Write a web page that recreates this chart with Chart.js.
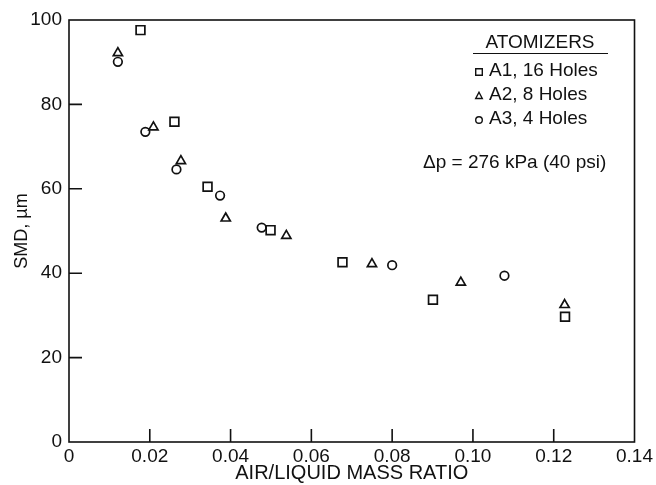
<!DOCTYPE html>
<html>
<head>
<meta charset="utf-8">
<script src="https://cdn.jsdelivr.net/npm/chart.js@4/dist/chart.umd.min.js"></script>
<style>
body { margin: 0; background: #fff; }
</style>
</head>
<body>
<canvas id="smdChart" width="656" height="485"></canvas>
<script>
// tick labels
const xTickLabels = ['0', '0.02', '0.04', '0.06', '0.08', '0.10', '0.12', '0.14']
const yTickLabels = ['0', '20', '40', '60', '80', '100']

// series
const seriesNames = ['A1, 16 Holes', 'A2, 8 Holes', 'A3, 4 Holes']
const a1Ratio = [0.0177, 0.0261, 0.0343, 0.0499, 0.0677, 0.0901, 0.1228]
const a1Smd = [97.6, 75.9, 60.5, 50.2, 42.6, 33.7, 29.7]
const a2Ratio = [0.0121, 0.0209, 0.0277, 0.0388, 0.0538, 0.0750, 0.0970, 0.1227]
const a2Smd = [92.2, 74.6, 66.6, 53.0, 48.9, 42.2, 37.8, 32.5]
const a3Ratio = [0.0121, 0.0189, 0.0266, 0.0374, 0.0477, 0.0800, 0.1078]
const a3Smd = [90.1, 73.5, 64.6, 58.4, 50.8, 41.9, 39.4]

const ink = '#111'
const fontFamily = '"Liberation Sans", Arial, Helvetica, sans-serif'

function toPoints(xs, ys) {
    return xs.map((x, i) => ({ x: x, y: ys[i] }))
}

function marker(ctx, style, x, y, s) {
    ctx.beginPath()
    if (style === 'rect') {
        ctx.rect(x - s, y - s, 2 * s, 2 * s)
    } else if (style === 'triangle') {
        ctx.moveTo(x, y - s * 1.15)
        ctx.lineTo(x + s, y + s * 0.75)
        ctx.lineTo(x - s, y + s * 0.75)
        ctx.closePath()
    } else {
        ctx.arc(x, y, s, 0, Math.PI * 2)
    }
    ctx.fillStyle = '#fff'
    ctx.fill()
    ctx.stroke()
}

// frame, inward ticks and the in-plot key
const framePlugin = {
    id: 'frame',
    afterDraw(chart) {
        const ctx = chart.ctx
        const area = chart.chartArea
        const xs = chart.scales.x
        const ys = chart.scales.y
        ctx.save()
        ctx.strokeStyle = ink
        ctx.lineWidth = 1.6
        ctx.strokeRect(area.left, area.top, area.right - area.left, area.bottom - area.top)

        ctx.beginPath()
        xs.ticks.forEach(t => {
            const px = xs.getPixelForValue(t.value)
            if (px > area.left + 2 && px < area.right - 2) {
                ctx.moveTo(px, area.bottom)
                ctx.lineTo(px, area.bottom - 13)
            }
        })
        ys.ticks.forEach(t => {
            const py = ys.getPixelForValue(t.value)
            if (py > area.top + 2 && py < area.bottom - 2) {
                ctx.moveTo(area.left, py)
                ctx.lineTo(area.left + 13, py)
            }
        })
        ctx.stroke()

        // key
        ctx.fillStyle = ink
        ctx.font = '19px ' + fontFamily
        ctx.textBaseline = 'middle'
        ctx.textAlign = 'center'
        ctx.fillText('ATOMIZERS', 540, 43)
        ctx.lineWidth = 1
        ctx.beginPath()
        ctx.moveTo(473, 53.5)
        ctx.lineTo(608, 53.5)
        ctx.stroke()

        ctx.lineWidth = 1.4
        ctx.textAlign = 'left'
        chart.data.datasets.forEach((ds, i) => {
            const rowY = 71 + i * 24
            marker(ctx, ds.pointStyle, 479, rowY + 1, 3.3)
            ctx.fillStyle = ink
            ctx.fillText(ds.label, 489, rowY)
        })
        ctx.fillText('\u0394p = 276 kPa (40 psi)', 423, 163)
        ctx.restore()
    }
}

Chart.defaults.font.family = fontFamily
Chart.defaults.color = ink

new Chart(document.getElementById('smdChart'), {
    type: 'scatter',
    data: {
        datasets: [
            {
                label: seriesNames[0],
                data: toPoints(a1Ratio, a1Smd),
                pointStyle: 'rect',
                pointRadius: 6.2,
                borderColor: ink,
                backgroundColor: '#fff',
                borderWidth: 1.7
            },
            {
                label: seriesNames[1],
                data: toPoints(a2Ratio, a2Smd),
                pointStyle: 'triangle',
                pointRadius: 5.3,
                borderColor: ink,
                backgroundColor: '#fff',
                borderWidth: 1.7
            },
            {
                label: seriesNames[2],
                data: toPoints(a3Ratio, a3Smd),
                pointStyle: 'circle',
                pointRadius: 4.3,
                borderColor: ink,
                backgroundColor: '#fff',
                borderWidth: 1.7
            }
        ]
    },
    plugins: [framePlugin],
    options: {
        responsive: false,
        animation: false,
        layout: { padding: { top: 20, right: 19, left: 0, bottom: 0 } },
        plugins: {
            legend: { display: false },
            tooltip: { enabled: false }
        },
        scales: {
            x: {
                type: 'linear',
                min: 0,
                max: 0.14,
                grid: { display: false, drawTicks: false },
                border: { display: false },
                ticks: {
                    stepSize: 0.02,
                    padding: 3,
                    maxRotation: 0,
                    font: { size: 19 },
                    color: ink,
                    callback: (v, i) => xTickLabels[i]
                },
                title: {
                    display: true,
                    text: 'AIR/LIQUID MASS RATIO',
                    font: { size: 20 },
                    color: ink,
                    padding: { top: 0, bottom: 0 }
                },
                afterFit: s => { s.height = 43 }
            },
            y: {
                type: 'linear',
                min: 0,
                max: 100,
                grid: { display: false, drawTicks: false },
                border: { display: false },
                ticks: {
                    stepSize: 20,
                    padding: 7,
                    font: { size: 19 },
                    color: ink,
                    callback: (v, i) => yTickLabels[i]
                },
                title: {
                    display: true,
                    text: 'SMD, \u00b5m',
                    font: { size: 18 },
                    color: ink,
                    padding: { top: 11, bottom: 0 }
                },
                afterFit: s => { s.width = 69 }
            }
        }
    }
})
</script>
</body>
</html>
